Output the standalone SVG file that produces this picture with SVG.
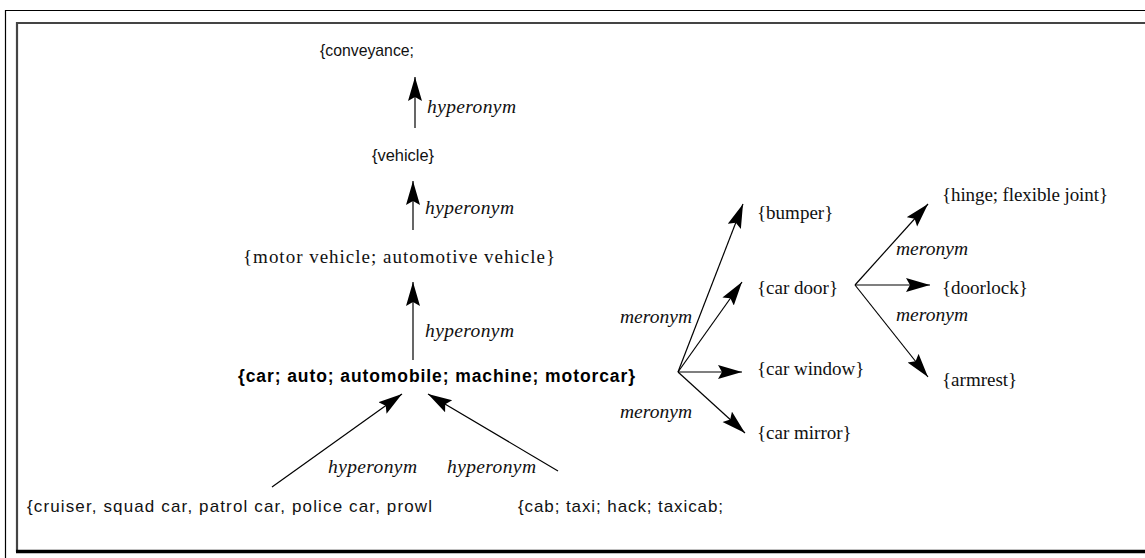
<svg xmlns="http://www.w3.org/2000/svg" width="1145" height="558" viewBox="0 0 1145 558">
<style>
.sans{font-family:"Liberation Sans",Arial,sans-serif;font-size:17px;fill:#111}
.bold{font-family:"Liberation Sans",Arial,sans-serif;font-size:17.5px;font-weight:bold;fill:#000}
.serif{font-family:"Liberation Serif","Times New Roman",serif;font-size:19px;fill:#111}
.lbl{font-family:"Liberation Serif","Times New Roman",serif;font-size:19.5px;font-style:italic;fill:#111}
.edge{stroke:#000;stroke-width:1.2;fill:none;marker-end:url(#ah)}
</style>
<defs>
<marker id="ah" markerUnits="userSpaceOnUse" markerWidth="26" markerHeight="16" refX="24" refY="7" orient="auto">
<path d="M0,0 L24,7 L0,14 L4,7 Z" fill="#000"/>
</marker>
</defs>
<rect width="1145" height="558" fill="#fff"/>
<g id="frame">
<path d="M5.5,558 V10.5 H1145" stroke="#000" stroke-width="1.2" fill="none"/>
<path d="M17,552 V23 H1145" stroke="#444" stroke-width="2.2" fill="none"/>
<path d="M16,551.5 H1145" stroke="#000" stroke-width="3.5"/>
</g>
<g id="connectors">
<line class="edge" x1="415" y1="128" x2="415" y2="77"/>
<line class="edge" x1="413" y1="230" x2="413" y2="181"/>
<line class="edge" x1="413" y1="360" x2="413" y2="282"/>
<line class="edge" x1="272" y1="487" x2="402" y2="394"/>
<line class="edge" x1="558" y1="471" x2="428" y2="394"/>
<line class="edge" x1="678" y1="372" x2="743" y2="204"/>
<line class="edge" x1="678" y1="372" x2="742" y2="282"/>
<line class="edge" x1="678" y1="372" x2="742" y2="372"/>
<line class="edge" x1="678" y1="372" x2="745" y2="433"/>
<line class="edge" x1="855" y1="285" x2="928" y2="204"/>
<line class="edge" x1="855" y1="285" x2="930" y2="285"/>
<line class="edge" x1="855" y1="285" x2="928" y2="377"/>
<text class="lbl" x="427" y="113" textLength="89">hyperonym</text>
<text class="lbl" x="425" y="214" textLength="89">hyperonym</text>
<text class="lbl" x="425" y="337" textLength="89">hyperonym</text>
<text class="lbl" x="328" y="473" textLength="89">hyperonym</text>
<text class="lbl" x="447" y="473" textLength="89">hyperonym</text>
<text class="lbl" x="620" y="323" textLength="72">meronym</text>
<text class="lbl" x="620" y="418" textLength="72">meronym</text>
<text class="lbl" x="896" y="255" textLength="72">meronym</text>
<text class="lbl" x="896" y="321" textLength="72">meronym</text>
</g>
<g id="conveyance"><text class="sans" x="320" y="56" textLength="94" lengthAdjust="spacingAndGlyphs">{conveyance;</text></g>
<g id="vehicle"><text class="sans" x="372" y="161" textLength="62" lengthAdjust="spacingAndGlyphs">{vehicle}</text></g>
<g id="motor-vehicle"><text class="serif" x="243" y="263" textLength="312">{motor vehicle; automotive vehicle}</text></g>
<g id="car"><text class="bold" x="238" y="382" textLength="397">{car; auto; automobile; machine; motorcar}</text></g>
<g id="cruiser"><text class="sans" x="27" y="512" textLength="405">{cruiser, squad car, patrol car, police car, prowl</text></g>
<g id="cab"><text class="sans" x="518" y="512" textLength="205">{cab; taxi; hack; taxicab;</text></g>
<g id="bumper"><text class="serif" x="757" y="219">{bumper}</text></g>
<g id="car-door"><text class="serif" x="757" y="294">{car door}</text></g>
<g id="car-window"><text class="serif" x="757" y="375">{car window}</text></g>
<g id="car-mirror"><text class="serif" x="757" y="439">{car mirror}</text></g>
<g id="hinge"><text class="serif" x="942" y="201" textLength="166">{hinge; flexible joint}</text></g>
<g id="doorlock"><text class="serif" x="942" y="294">{doorlock}</text></g>
<g id="armrest"><text class="serif" x="942" y="386">{armrest}</text></g>
</svg>
